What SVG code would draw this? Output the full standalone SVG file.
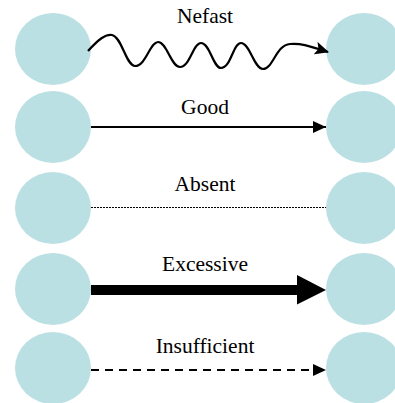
<svg xmlns="http://www.w3.org/2000/svg" width="395" height="403" viewBox="0 0 395 403">
<style>
.node{fill:#bbe0e4;}
.lbl{font-family:"Liberation Serif","Times New Roman",serif;font-size:21.5px;fill:#000;text-anchor:middle;}
.c{fill:none;stroke:#000;}
</style>
<defs>
<marker id="ah" viewBox="0 0 13 12" refX="13" refY="6" markerWidth="13" markerHeight="12" markerUnits="userSpaceOnUse" orient="auto">
<path d="M0,0 L13,6 L0,12 Z" fill="#000"/>
</marker>
<marker id="ahw" viewBox="0 0 14 13" refX="13" refY="6.5" markerWidth="14" markerHeight="13" markerUnits="userSpaceOnUse" orient="auto">
<path d="M0,0 L14,6.5 L0,13 L3,6.5 Z" fill="#000"/>
</marker>
</defs>
<rect width="395" height="403" fill="#fff"/>
<g id="n1a"><ellipse class="node" cx="53" cy="49" rx="38" ry="36"/></g>
<g id="n1b"><ellipse class="node" cx="364" cy="49" rx="38" ry="36"/></g>
<g id="n2a"><ellipse class="node" cx="53" cy="127" rx="38" ry="36"/></g>
<g id="n2b"><ellipse class="node" cx="364" cy="127" rx="38" ry="36"/></g>
<g id="n3a"><ellipse class="node" cx="53" cy="208" rx="38" ry="36"/></g>
<g id="n3b"><ellipse class="node" cx="364" cy="208" rx="38" ry="36"/></g>
<g id="n4a"><ellipse class="node" cx="53" cy="289" rx="38" ry="36"/></g>
<g id="n4b"><ellipse class="node" cx="364" cy="289" rx="38" ry="36"/></g>
<g id="n5a"><ellipse class="node" cx="53" cy="368" rx="38" ry="36"/></g>
<g id="n5b"><ellipse class="node" cx="364" cy="368" rx="38" ry="36"/></g>
<g id="connectors">
<path class="c" stroke-width="2.2" marker-end="url(#ahw)" d="M88,51 C98,40 105,34 112,35 C122,37 126,66 135,66 C146,66 150,42 158,42 C167,42 171,67 180,67 C190,67 193,43 201,43 C210,43 213,68 221,68 C231,68 233,43 241,43 C250,43 254,69 263,69 C273,69 276,45 290,44 C303,43 312,47 328,52"/>
<line class="c" x1="91" y1="127" x2="326" y2="127" stroke-width="2" marker-end="url(#ah)"/>
<line class="c" x1="91" y1="207.5" x2="326" y2="207.5" stroke-width="1" stroke-dasharray="2,1"/>
<line class="c" x1="91" y1="290" x2="299" y2="290" stroke-width="10"/>
<path d="M297,275 L326,290 L297,304.5 Z" fill="#000"/>
<line class="c" x1="91" y1="370" x2="326" y2="370" stroke-width="2.2" stroke-dasharray="8,6" marker-end="url(#ah)"/>
</g>
<g id="labels">
<text class="lbl" x="205" y="23">Nefast</text>
<text class="lbl" x="205" y="114">Good</text>
<text class="lbl" x="205" y="191">Absent</text>
<text class="lbl" x="205" y="271">Excessive</text>
<text class="lbl" x="205" y="353">Insufficient</text>
</g>
</svg>
